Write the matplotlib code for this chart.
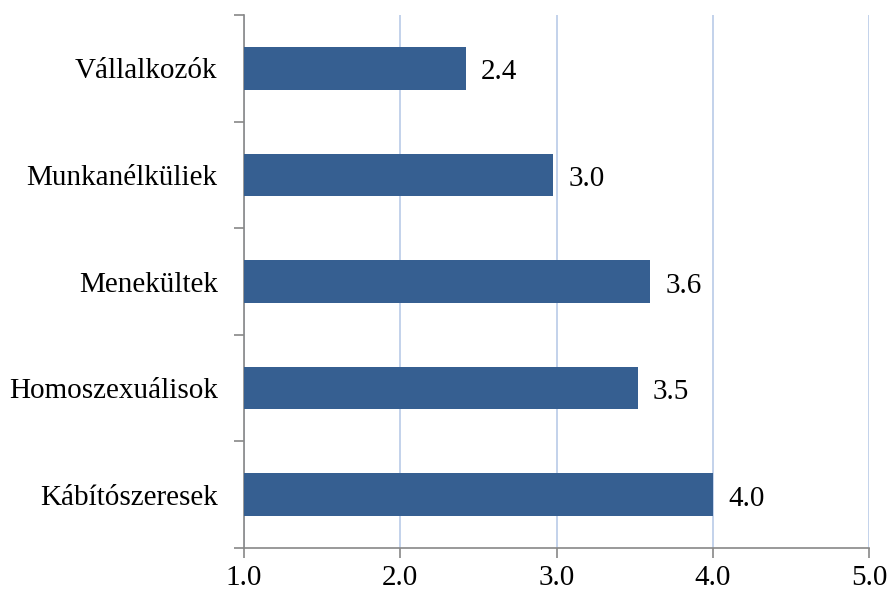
import matplotlib.pyplot as plt
import numpy as np

plt.rcParams['font.family'] = ['Liberation Serif', 'DejaVu Serif']

CATEGORIES = ["Kábítószeresek", "Homoszexuálisok", "Menekültek", "Munkanélküliek", "Vállalkozók"]
VALUES = [4.0, 3.52, 3.6, 2.98, 2.42]
LABELS = ["4.0", "3.5", "3.6", "3.0", "2.4"]
X_TICKS = [1.0, 2.0, 3.0, 4.0, 5.0]

fig = plt.figure(figsize=(8.88, 5.92), dpi=100)
ax = fig.add_axes([244 / 888, 44 / 592, 625 / 888, 533 / 592])

y = np.arange(len(CATEGORIES))
ax.barh(y, [v - 1.0 for v in VALUES], left=1.0, height=0.4, color='#365f91', zorder=3)

for yi, v, lab in zip(y, VALUES, LABELS):
    ax.annotate(lab, (v, yi), xytext=(11, -3), textcoords='offset points',
                va='center', ha='left', fontsize=21, color='black')

ax.set_xlim(1.0, 5.0)
ax.set_ylim(-0.5, len(CATEGORIES) - 0.5)

ax.set_xticks(X_TICKS)
ax.set_xticklabels(["%.1f" % t for t in X_TICKS], fontsize=21)
ax.xaxis.grid(True, color='#b9cbe8', linewidth=1.2, zorder=0)

# category labels as minor ticks, tick marks at boundaries
ax.set_yticks(np.arange(-0.5, len(CATEGORIES), 1.0))
ax.set_yticklabels([])
ax.set_yticks(y, minor=True)
ax.set_yticklabels(CATEGORIES, minor=True, fontsize=21)
ax.tick_params(axis='y', which='minor', length=0, pad=19)
ax.tick_params(axis='y', which='major', length=7, width=1.2, color='#888888')
ax.tick_params(axis='x', length=7, width=1.2, color='#888888', pad=5)

for s in ['top', 'right']:
    ax.spines[s].set_visible(False)
for s in ['left', 'bottom']:
    ax.spines[s].set_color('#888888')
    ax.spines[s].set_linewidth(1.2)

fig.savefig('out.png', dpi=100)
